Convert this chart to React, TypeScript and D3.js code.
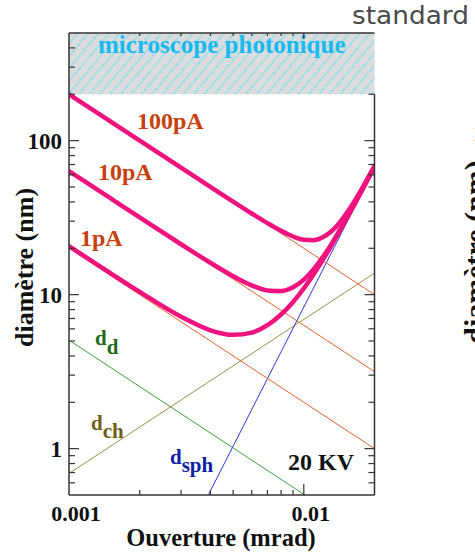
import React from "react";
import * as d3 from "d3";

// ---- data ----
const apertures = [0.001, 0.0015, 0.002, 0.003, 0.004, 0.005, 0.006, 0.007, 0.008, 0.009, 0.01, 0.011, 0.012, 0.013, 0.014, 0.016, 0.018, 0.02];
const total1pA = [20.64, 13.79, 10.41, 7.19, 5.87, 5.48, 5.67, 6.33, 7.43, 8.97, 10.99, 13.53, 16.65, 20.39, 24.79, 35.77, 49.99, 67.83];
const total10pA = [63.4, 42.28, 31.73, 21.24, 16.1, 13.18, 11.49, 10.65, 10.55, 11.17, 12.52, 14.59, 17.39, 20.9, 25.15, 35.97, 50.1, 67.9];
const total100pA = [200.07, 133.4, 100.04, 66.72, 50.09, 40.17, 33.65, 29.13, 25.96, 23.86, 22.73, 22.59, 23.5, 25.49, 28.57, 37.87, 51.2, 68.56];

const sourceX = [0.001, 0.02];
const source1pA = [20, 1.0];
const source10pA = [63.2, 3.16];
const source100pA = [200, 10];

const diffX = [0.001, 0.0101];
const diffY = [5.06, 0.5];
const chromX = [0.001, 0.02];
const chromY = [0.69, 13.8];
const sphX = [0.00392, 0.02];
const sphY = [0.5, 66.4];

const xDomain = [0.001, 0.02];
const yDomain = [0.5, 500];
const opticalLimit = 200;
const xTickLabels = ["0.001", "0.01"];
const yTickLabels = ["1", "10", "100"];

const W = 475;
const H = 553;
const L = 69, R = 374.5, T = 33, B = 495;

const serif = "'Liberation Serif', 'Times New Roman', serif";

export default function App() {
  const x = d3.scaleLog().domain(xDomain).range([L, R]);
  const y = d3.scaleLog().domain(yDomain).range([B, T]);

  const zip = (xs: number[], ys: number[]) => xs.map((v, i) => [v, ys[i]] as [number, number]);
  const curve = d3
    .line<[number, number]>()
    .x((d) => x(d[0]))
    .y((d) => y(d[1]))
    .curve(d3.curveMonotoneX);
  const straight = d3
    .line<[number, number]>()
    .x((d) => x(d[0]))
    .y((d) => y(d[1]));

  const isMajor = (v: number) => Math.abs(Math.log10(v) - Math.round(Math.log10(v))) < 1e-9;
  const yTicks = y.ticks().filter((v) => v > yDomain[0] * 1.001 && v < yDomain[1] * 0.999);
  const xTicks = x.ticks().filter((v) => v > xDomain[0] * 1.001 && v < xDomain[1] * 0.999);
  const yMajors = yTicks.filter(isMajor);
  const xMajors = [xDomain[0], ...xTicks.filter(isMajor)];

  const yLimit = y(opticalLimit);
  const pink = "#f0127e";
  const orange = "#e2622e";

  return (
    <svg width={W} height={H} style={{ position: "absolute", left: 0, top: 0, background: "#fff" }}>
      <defs>
        <clipPath id="plot">
          <rect x={L} y={T} width={R - L} height={B - T} />
        </clipPath>
        <pattern id="hatch" width={8} height={8} patternUnits="userSpaceOnUse" patternTransform="rotate(40)">
          <rect width={8} height={8} fill="#dcdcdc" />
          <line x1={1} y1={0} x2={1} y2={8} stroke="#7fe0f2" strokeWidth={1.6} strokeDasharray="2 1" />
        </pattern>
      </defs>

      {/* top-right caption */}
      <text x={352} y={24} fontFamily="'DejaVu Sans', sans-serif" fontWeight="normal" fontSize={25} fill="#4a4a4a" textLength={117} lengthAdjust="spacingAndGlyphs">
        standard
      </text>

      {/* optical microscope region */}
      <rect x={L} y={T} width={R - L} height={yLimit - T} fill="url(#hatch)" />
      <text x={(L + R) / 2} y={53} textAnchor="middle" fontFamily={serif} fontWeight="bold" fontSize={25} fill="#19b9f0">
        microscope photonique
      </text>

      <g clipPath="url(#plot)">
        {/* component lines */}
        <path d={straight(zip(diffX, diffY)) || ""} fill="none" stroke="#3c9e3c" strokeWidth={1} />
        <path d={straight(zip(chromX, chromY)) || ""} fill="none" stroke="#a08c4c" strokeWidth={1} />
        <path d={straight(zip(sphX, sphY)) || ""} fill="none" stroke="#2a3ae0" strokeWidth={1} />
        <path d={straight(zip(sourceX, source1pA)) || ""} fill="none" stroke={orange} strokeWidth={1} />
        <path d={straight(zip(sourceX, source10pA)) || ""} fill="none" stroke={orange} strokeWidth={1} />
        <path d={straight(zip(sourceX, source100pA)) || ""} fill="none" stroke={orange} strokeWidth={1} />
        {/* total probe diameters */}
        <path d={curve(zip(apertures, total1pA)) || ""} fill="none" stroke={pink} strokeWidth={4.5} strokeLinecap="round" />
        <path d={curve(zip(apertures, total10pA)) || ""} fill="none" stroke={pink} strokeWidth={4.5} strokeLinecap="round" />
        <path d={curve(zip(apertures, total100pA)) || ""} fill="none" stroke={pink} strokeWidth={4.5} strokeLinecap="round" />
      </g>

      {/* frame */}
      <g stroke="#333" strokeWidth={1.5} fill="none">
        <line x1={L} y1={T} x2={R} y2={T} />
        <line x1={L} y1={T} x2={L} y2={B} />
        <line x1={L} y1={B} x2={R} y2={B} />
        <line x1={R} y1={yLimit} x2={R} y2={B} />
      </g>
      <g stroke="#333" strokeWidth={1.2}>
        {yTicks.map((v) => {
          const len = isMajor(v) ? 10 : 6;
          return <line key={"yl" + v} x1={L} x2={L + len} y1={y(v)} y2={y(v)} />;
        })}
        {yTicks
          .filter((v) => v <= opticalLimit)
          .map((v) => {
            const len = isMajor(v) ? 10 : 6;
            return <line key={"yr" + v} x1={R} x2={R - len} y1={y(v)} y2={y(v)} />;
          })}
        {xTicks.map((v) => {
          const len = isMajor(v) ? 11 : 5;
          return (
            <g key={"x" + v}>
              <line x1={x(v)} x2={x(v)} y1={B} y2={B - len} />
              <line x1={x(v)} x2={x(v)} y1={T} y2={T + (isMajor(v) ? 6 : 3)} />
            </g>
          );
        })}
      </g>

      {/* tick labels */}
      {yMajors.map((v, i) => (
        <text key={"ytl" + v} x={62} y={y(v)} dy="0.35em" textAnchor="end" fontFamily={serif} fontWeight="bold" fontSize={23} fill="#111">
          {yTickLabels[i]}
        </text>
      ))}
      {xMajors.map((v, i) => (
        <text key={"xtl" + v} x={x(v) + 7} y={521} textAnchor="middle" fontFamily={serif} fontWeight="bold" fontSize={22} fill="#111">
          {xTickLabels[i]}
        </text>
      ))}

      {/* axis titles */}
      <text transform="translate(33,267.5) rotate(-90)" textAnchor="middle" fontFamily={serif} fontWeight="bold" fontSize={26} fill="#111">
        diamètre (nm)
      </text>
      <text x={221} y={546} textAnchor="middle" fontFamily={serif} fontWeight="bold" fontSize={24.5} fill="#111">
        Ouverture (mrad)
      </text>

      {/* curve labels */}
      <g fontFamily={serif} fontWeight="bold" fontSize={24} fill="#c8400c">
        <text x={137} y={129}>100pA</text>
        <text x={98} y={180}>10pA</text>
        <text x={80} y={246}>1pA</text>
      </g>
      <text x={95} y={345} fontFamily={serif} fontWeight="bold" fontSize={21} fill="#1b6a1b">
        d<tspan dy={9}>d</tspan>
      </text>
      <text x={91} y={430} fontFamily={serif} fontWeight="bold" fontSize={21} fill="#6f5f14">
        d<tspan dy={8}>ch</tspan>
      </text>
      <text x={170} y={464} fontFamily={serif} fontWeight="bold" fontSize={21} fill="#0e1ea6">
        d<tspan dy={8}>sph</tspan>
      </text>
      <text x={288} y={470} fontFamily={serif} fontWeight="bold" fontSize={24} fill="#111">
        20 KV
      </text>

      {/* neighbouring chart fragment at the right edge */}
      <text x={473} y={133} dy="0.35em" fontFamily={serif} fontWeight="bold" fontSize={23} fill="#111">
        100
      </text>
      <text transform="translate(485,252) rotate(-90)" textAnchor="middle" fontFamily={serif} fontWeight="bold" fontSize={30} fill="#111">
        diamètre (nm)
      </text>
    </svg>
  );
}
